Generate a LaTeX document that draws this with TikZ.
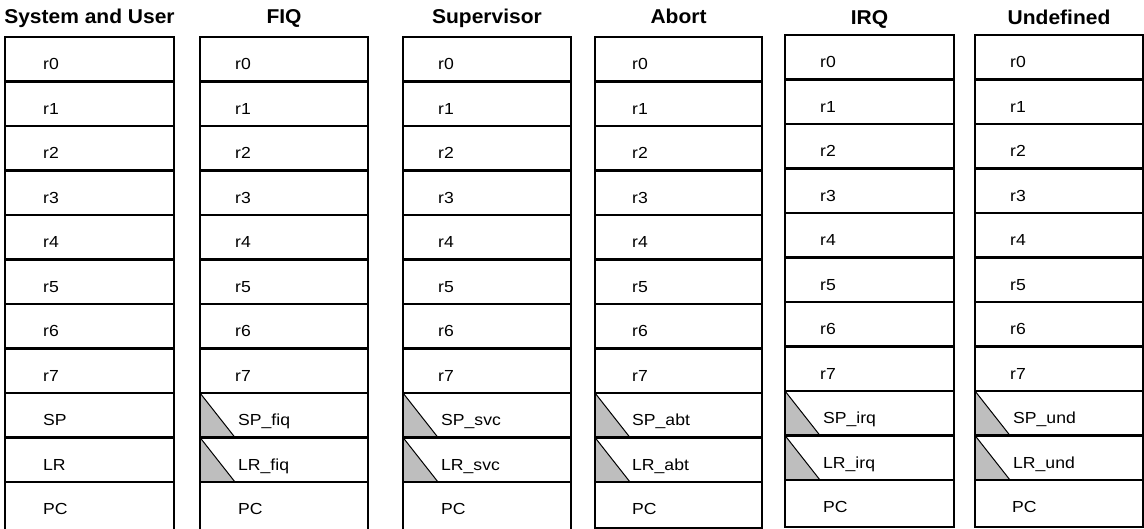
\documentclass[tikz,border=0pt]{standalone}
\usepackage{fontspec}
\setmainfont{Liberation Sans}
\newfontfamily\lblfont[FakeStretch=1.1]{Liberation Sans}
\newfontfamily\hdrfont[FakeStretch=1.05]{Liberation Sans Bold}
\definecolor{trigray}{RGB}{190,190,190}
\tikzset{
  cellbox/.style={draw, line width=2.2pt, minimum height=44.5pt, inner sep=0pt, outer sep=0pt, anchor=north west},
  lbl/.style={font=\lblfont\fontsize{16}{19}\selectfont, anchor=base west, inner sep=0pt},
  hdr/.style={font=\hdrfont\fontsize{20}{24}\selectfont, anchor=base, inner sep=0pt},
  diag/.style={line width=1pt},
}
% #1 id, #2 left, #3 right, #4 top, #5 bottom, #6 header, #7 header baseline, #8 r-offset, #9 PC offset
\newcommand\modecol[9]{%
  \node[hdr] (#1-h) at ({(#2+#3)/2},#7) {#6};
  \foreach \i in {0,...,7}{
    \node[cellbox, minimum width={(#3-#2)*1pt}] (#1-\i) at (#2,{#4+\i*44.5}) {};
    \node[lbl] (#1-\i-t) at ([xshift=#8pt,yshift=-32.75pt]#1-\i.north west) {r\i};
  }
  \node[cellbox, minimum width={(#3-#2)*1pt}, minimum height={(#5-#4-10*44.5)*1pt}] (#1-10) at (#2,{#4+10*44.5}) {};
  \node[lbl] (#1-10-t) at ([xshift=#9pt,yshift=-32.75pt]#1-10.north west) {PC};
}
% #1 id, #2 row, #3 left, #4 right, #5 top, #6 text, #7 offset
\newcommand\plainrow[7]{%
  \node[cellbox, minimum width={(#4-#3)*1pt}] (#1-#2) at (#3,{#5+#2*44.5}) {};
  \node[lbl] (#1-#2-t) at ([xshift=#7pt,yshift=-32.75pt]#1-#2.north west) {#6};
}
\newcommand\bankrow[7]{%
  \fill[trigray] (#3,{#5+#2*44.5}) -- (#3,{#5+(#2+1)*44.5}) -- ({#3+35},{#5+(#2+1)*44.5}) -- cycle;
  \draw[diag] (#3,{#5+#2*44.5}) -- ({#3+35},{#5+(#2+1)*44.5});
  \plainrow{#1}{#2}{#3}{#4}{#5}{#6}{#7}
}
\begin{document}
\begin{tikzpicture}[x=1pt,y=-1pt]
\useasboundingbox (0,0) rectangle (1144,529);
% System and User
\modecol{usr}{5}{174}{37}{534}{System and User}{23.5}{38}{38}
\plainrow{usr}{8}{5}{174}{37}{SP}{38}
\plainrow{usr}{9}{5}{174}{37}{LR}{38}
% FIQ
\modecol{fiq}{200}{368}{37}{534}{FIQ}{23.5}{35}{38}
\bankrow{fiq}{8}{200}{368}{37}{SP\_fiq}{38}
\bankrow{fiq}{9}{200}{368}{37}{LR\_fiq}{38}
% Supervisor
\modecol{svc}{403}{571}{37}{534}{Supervisor}{23.5}{35}{38}
\bankrow{svc}{8}{403}{571}{37}{SP\_svc}{38}
\bankrow{svc}{9}{403}{571}{37}{LR\_svc}{38}
% Abort
\modecol{abt}{595}{762}{37}{528}{Abort}{23.5}{37}{37}
\bankrow{abt}{8}{595}{762}{37}{SP\_abt}{37}
\bankrow{abt}{9}{595}{762}{37}{LR\_abt}{37}
% IRQ
\modecol{irq}{785}{954}{35}{527}{IRQ}{25}{35}{38}
\bankrow{irq}{8}{785}{954}{35}{SP\_irq}{38}
\bankrow{irq}{9}{785}{954}{35}{LR\_irq}{38}
% Undefined
\modecol{und}{975}{1143}{35}{527}{Undefined}{25}{35}{37}
\bankrow{und}{8}{975}{1143}{35}{SP\_und}{38}
\bankrow{und}{9}{975}{1143}{35}{LR\_und}{38}
\end{tikzpicture}
\end{document}
